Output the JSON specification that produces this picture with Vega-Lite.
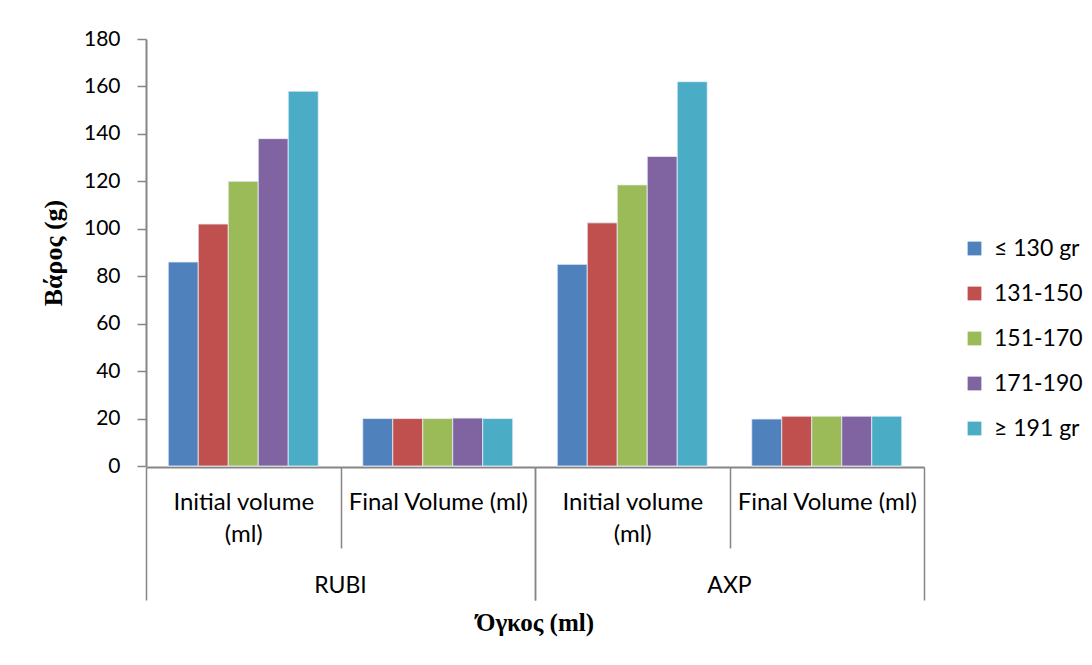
{
  "$schema": "https://vega.github.io/schema/vega-lite/v6.json",
  "background": "#ffffff",
  "padding": {"left": 40, "top": 28, "right": 10, "bottom": 5},
  "data": {"values": [
    {"group": "RUBI", "measure": "Initial volume (ml)", "size": "≤ 130 gr", "value": 86},
    {"group": "RUBI", "measure": "Initial volume (ml)", "size": "131-150", "value": 102},
    {"group": "RUBI", "measure": "Initial volume (ml)", "size": "151-170", "value": 120},
    {"group": "RUBI", "measure": "Initial volume (ml)", "size": "171-190", "value": 138},
    {"group": "RUBI", "measure": "Initial volume (ml)", "size": "≥ 191 gr", "value": 158},
    {"group": "RUBI", "measure": "Final Volume (ml)", "size": "≤ 130 gr", "value": 20},
    {"group": "RUBI", "measure": "Final Volume (ml)", "size": "131-150", "value": 20},
    {"group": "RUBI", "measure": "Final Volume (ml)", "size": "151-170", "value": 20},
    {"group": "RUBI", "measure": "Final Volume (ml)", "size": "171-190", "value": 20.2},
    {"group": "RUBI", "measure": "Final Volume (ml)", "size": "≥ 191 gr", "value": 20},
    {"group": "AXP", "measure": "Initial volume (ml)", "size": "≤ 130 gr", "value": 85},
    {"group": "AXP", "measure": "Initial volume (ml)", "size": "131-150", "value": 102.5},
    {"group": "AXP", "measure": "Initial volume (ml)", "size": "151-170", "value": 118.5},
    {"group": "AXP", "measure": "Initial volume (ml)", "size": "171-190", "value": 130.5},
    {"group": "AXP", "measure": "Initial volume (ml)", "size": "≥ 191 gr", "value": 162},
    {"group": "AXP", "measure": "Final Volume (ml)", "size": "≤ 130 gr", "value": 19.8},
    {"group": "AXP", "measure": "Final Volume (ml)", "size": "131-150", "value": 21},
    {"group": "AXP", "measure": "Final Volume (ml)", "size": "151-170", "value": 21},
    {"group": "AXP", "measure": "Final Volume (ml)", "size": "171-190", "value": 21},
    {"group": "AXP", "measure": "Final Volume (ml)", "size": "≥ 191 gr", "value": 21}
  ]},
  "facet": {
    "column": {
      "field": "group", "type": "nominal", "sort": ["RUBI", "AXP"],
      "title": "Όγκος (ml)",
      "header": {
        "labelOrient": "bottom", "titleOrient": "bottom",
        "labelFont": "Lato", "labelFontSize": 23, "labelColor": "#000000", "labelPadding": -26,
        "titleFont": "Liberation Serif", "titleFontSize": 25, "titleFontWeight": "bold", "titleColor": "#000000", "titlePadding": 0
      }
    }
  },
  "spacing": 0,
  "spec": {
    "width": 389,
    "height": 427,
    "mark": {"type": "bar", "stroke": "#e8eef6", "strokeWidth": 0.8},
    "encoding": {
      "x": {
        "field": "measure", "type": "nominal",
        "sort": ["Initial volume (ml)", "Final Volume (ml)"],
        "scale": {"paddingInner": 0, "paddingOuter": 0},
        "axis": {
          "title": null, "labelAngle": 0, "tickBand": "extent",
          "labelExpr": "datum.label == 'Initial volume (ml)' ? ['Initial volume', '(ml)'] : datum.label",
          "labelFont": "Lato", "labelFontSize": 24, "labelColor": "#000000", "labelLineHeight": 32,
          "labelPadding": {"condition": {"test": "datum.value == 'Initial volume (ml)'", "value": -58}, "value": -110},
          "labelLimit": 300,
          "domainColor": "#868686", "domainWidth": 2, "tickColor": "#868686", "tickWidth": 1.5,
          "tickSize": {"condition": {"test": "datum.value == 'Initial volume (ml)'", "value": 81}, "value": 133}
        }
      },
      "xOffset": {"field": "size", "type": "nominal", "sort": ["≤ 130 gr", "131-150", "151-170", "171-190", "≥ 191 gr"], "scale": {"paddingInner": 0, "paddingOuter": 0.742}},
      "y": {
        "field": "value", "type": "quantitative",
        "scale": {"domain": [0, 180]},
        "axis": {
          "title": "Βάρος (g)", "values": [0, 20, 40, 60, 80, 100, 120, 140, 160, 180], "grid": false,
          "titleFont": "Liberation Serif", "titleFontSize": 26, "titleFontWeight": "bold", "titleColor": "#000000", "titlePadding": 17,
          "labelFont": "Lato", "labelFontSize": 21, "labelColor": "#000000", "labelPadding": 17,
          "domainColor": "#868686", "domainWidth": 2, "tickColor": "#868686", "tickWidth": 1.5, "tickSize": 9
        }
      },
      "color": {
        "field": "size", "type": "nominal",
        "sort": ["≤ 130 gr", "131-150", "151-170", "171-190", "≥ 191 gr"],
        "scale": {"domain": ["≤ 130 gr", "131-150", "151-170", "171-190", "≥ 191 gr"], "range": ["#4F81BD", "#C0504D", "#9BBB59", "#8064A2", "#4BACC6"]},
        "legend": {
          "title": null, "orient": "none", "legendX": 817, "legendY": 198,
          "symbolType": "square", "symbolSize": 190, "symbolStrokeWidth": 0,
          "labelFont": "Lato", "labelFontSize": 23, "labelColor": "#000000", "rowPadding": 21, "labelOffset": 8
        }
      }
    }
  },
  "config": {"view": {"stroke": null}}
}
